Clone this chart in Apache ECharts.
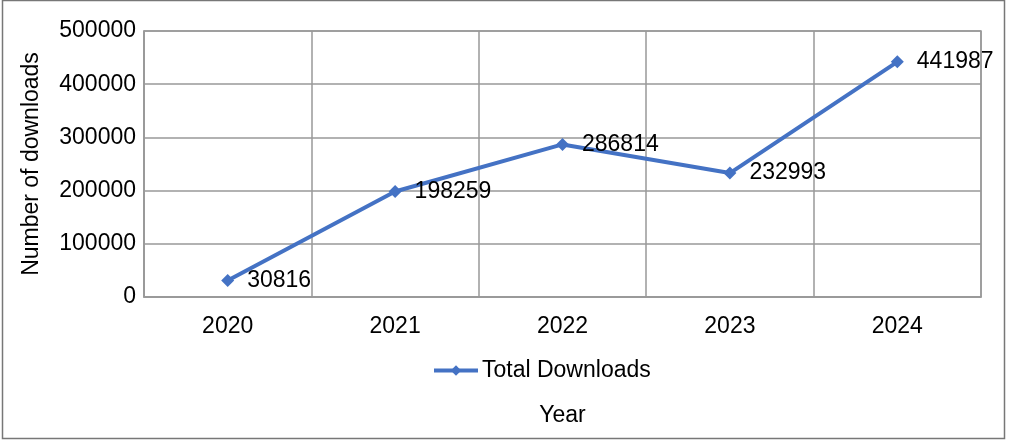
<!DOCTYPE html>
<html><head><meta charset="utf-8">
<script src="https://cdn.jsdelivr.net/npm/echarts@6/dist/echarts.min.js"></script>
<style>html,body{margin:0;padding:0;background:#fff}#c{width:1011px;height:441px}</style>
</head><body><div id="c"></div>
<script>
const years = ['2020','2021','2022','2023','2024'];
const totalDownloads = [30816, 198259, 286814, 232993, 441987];
const seriesName = 'Total Downloads';
const yTicks = {min:0, max:500000, interval:100000};

const chart = echarts.init(document.getElementById('c'), null, {renderer:'canvas'});
const font = '"Liberation Sans", Arial, sans-serif';
const fs = 23;
chart.setOption({
  animation:false,
  backgroundColor:'#fff',
  textStyle:{fontFamily:font},
  graphic:[{type:'rect', shape:{x:2.5,y:0.5,width:1002,height:438}, style:{fill:'none', stroke:'#777', lineWidth:1.5}, silent:true}],
  grid:{left:144, right:30, top:31, bottom:144, show:true, borderColor:'#999', borderWidth:1.5, containLabel:false},
  legend:{data:[seriesName], left:432, top:359, padding:0, itemWidth:44, itemHeight:13, itemGap:0,
    lineStyle:{width:4},
    textStyle:{fontSize:fs, color:'#000', fontFamily:font, padding:[0,0,0,-1]}},
  xAxis:{type:'category', data:years, boundaryGap:true,
    name:'Year', nameLocation:'middle', nameGap:107, nameTextStyle:{fontSize:fs, color:'#000', fontFamily:font},
    axisLine:{show:true, lineStyle:{color:'#999', width:1.5}}, axisTick:{show:false},
    axisLabel:{fontSize:fs, color:'#000', margin:18, fontFamily:font},
    splitLine:{show:true, lineStyle:{color:'#999', width:1.5}}},
  yAxis:{type:'value', min:yTicks.min, max:yTicks.max, interval:yTicks.interval,
    name:'Number of downloads', nameLocation:'middle', nameGap:101, nameRotate:90,
    nameTextStyle:{fontSize:fs, color:'#000', fontFamily:font},
    axisLine:{show:true, lineStyle:{color:'#999', width:1.5}}, axisTick:{show:false},
    axisLabel:{fontSize:fs, color:'#000', margin:8, fontFamily:font, formatter:v=>String(v)},
    splitLine:{show:true, lineStyle:{color:'#999', width:1.5}}},
  series:[{name:seriesName, type:'line', data:totalDownloads, symbol:'diamond', symbolSize:13,
    lineStyle:{color:'#4472C4', width:4}, itemStyle:{color:'#4472C4'},
    label:{show:true, position:'right', distance:13, fontSize:fs, color:'#000', fontFamily:font}}]
});
</script></body></html>
